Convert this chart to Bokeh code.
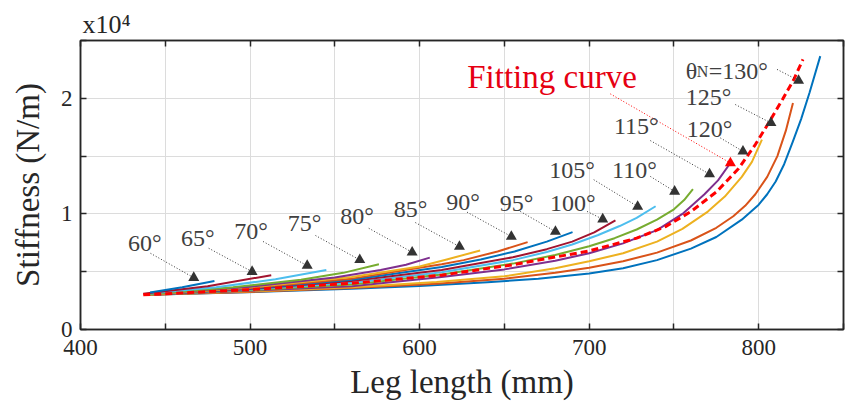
from bokeh.plotting import figure
from bokeh.models import FixedTicker, LinearAxis, Range1d, ColumnDataSource
from bokeh.embed import file_html
from bokeh.resources import INLINE
from bokeh.core.properties import value

# ---------------- data (stiffness in x10^4 N/m, leg length in mm) ----------------
angles = [60, 65, 70, 75, 80, 85, 90, 95, 100, 105, 110, 115, 120, 125, 130]

len_60 = [441, 460, 479]
stf_60 = [0.32, 0.365, 0.42]
len_65 = [437, 475, 512.5]
stf_65 = [0.31, 0.375, 0.47]
len_70 = [439, 480, 515, 545]
stf_70 = [0.31, 0.365, 0.435, 0.515]
len_75 = [440, 490, 530, 555, 576]
stf_75 = [0.305, 0.365, 0.43, 0.49, 0.564]
len_80 = [440, 500, 550, 577, 592, 606]
stf_80 = [0.305, 0.37, 0.45, 0.515, 0.56, 0.622]
len_85 = [440, 500, 560, 600, 616, 635.7]
stf_85 = [0.30, 0.365, 0.455, 0.545, 0.605, 0.684]
len_90 = [440, 500, 560, 613, 626, 646, 663.7]
stf_90 = [0.30, 0.36, 0.44, 0.565, 0.60, 0.675, 0.756]
len_95 = [440, 500, 560, 613, 636, 656, 675, 690.2]
stf_95 = [0.30, 0.355, 0.43, 0.54, 0.605, 0.675, 0.76, 0.842]
len_100 = [440, 500, 560, 613, 655, 675, 690, 703, 715.5]
stf_100 = [0.30, 0.35, 0.42, 0.515, 0.625, 0.695, 0.76, 0.84, 0.943]
len_105 = [440, 500, 560, 613, 655, 675, 690, 705, 718, 728, 739.2]
stf_105 = [0.30, 0.345, 0.405, 0.495, 0.60, 0.67, 0.735, 0.815, 0.895, 0.965, 1.066]
len_110 = [440, 500, 560, 613, 655, 680, 700, 715, 728, 740, 750, 756, 761.2]
stf_110 = [0.30, 0.34, 0.39, 0.475, 0.57, 0.645, 0.72, 0.79, 0.865, 0.95, 1.04, 1.12, 1.214]
len_115 = [440, 500, 560, 613, 650, 680, 700, 720, 740, 755, 768, 776, 783.3]
stf_115 = [0.30, 0.335, 0.375, 0.455, 0.52, 0.595, 0.66, 0.745, 0.86, 1.0, 1.17, 1.29, 1.44]
len_120 = [440, 500, 560, 610, 650, 680, 700, 720, 740, 755, 770, 780, 790, 796, 801.9]
stf_120 = [0.30, 0.33, 0.365, 0.41, 0.46, 0.53, 0.59, 0.66, 0.76, 0.87, 1.02, 1.15, 1.32, 1.45, 1.643]
len_125 = [440, 500, 560, 610, 650, 680, 700, 720, 740, 760, 775, 785, 792, 798, 805, 811, 816, 820.2]
stf_125 = [0.30, 0.325, 0.358, 0.395, 0.44, 0.49, 0.535, 0.59, 0.665, 0.77, 0.88, 0.98, 1.07,
           1.17, 1.32, 1.50, 1.72, 1.96]
len_130 = [440, 480, 520, 560, 600, 640, 670, 700, 720, 740, 760, 775, 790, 800, 805, 810,
           815, 820, 825, 830, 836.3]
stf_130 = [0.30, 0.315, 0.332, 0.352, 0.376, 0.408, 0.44, 0.485, 0.53, 0.60, 0.70, 0.80, 0.95,
           1.08, 1.17, 1.28, 1.43, 1.62, 1.82, 2.05, 2.365]

len_fit = [437, 500, 560, 613, 655, 700, 728, 745, 760, 775, 788, 798, 806, 814, 820.6, 826.1]
stf_fit = [0.30, 0.345, 0.40, 0.47, 0.56, 0.68, 0.79, 0.89, 1.02, 1.19, 1.39, 1.60, 1.79, 1.99,
           2.16, 2.336]

x_major = [400, 500, 600, 700, 800]
x_minor = [450, 550, 650, 750, 850]
y_major = [0, 1, 2]
y_minor = [0.5, 1.5, 2.5]

# angle labels (text anchor) and arrows (start -> head)
lab_text = ["60°", "65°", "70°", "75°", "80°", "85°", "90°", "95°", "100°",
            "105°", "110°", "115°", "120°", "125°"]
lab_x = [437.9, 469.2, 500.6, 532.1, 563.1, 594.6, 625.6, 657.1, 690.3,
         689.9, 726.7, 727.8, 771.0, 770.4]
lab_y = [0.746, 0.789, 0.853, 0.919, 0.983, 1.044, 1.101, 1.093, 1.093,
         1.382, 1.382, 1.758, 1.738, 2.010]
arr_x0 = [441.3, 475.6, 507.7, 538.6, 570.0, 597.5, 628.0, 659.4, 698.8,
          702.7, 736.1, 736.1, 777.4, 786.2, 810.8]
arr_y0 = [0.659, 0.703, 0.761, 0.813, 0.876, 0.925, 1.015, 1.021, 1.021,
          1.296, 1.324, 1.634, 1.657, 1.946, 2.250]
arr_x1 = [466.8, 501.2, 533.7, 564.7, 595.6, 623.5, 654.1, 680.1, 708.0,
          728.6, 750.4, 771.0, 790.7, 807.2, 823.5]
arr_y1 = [0.448, 0.500, 0.552, 0.602, 0.668, 0.717, 0.804, 0.847, 0.954,
          1.064, 1.194, 1.344, 1.541, 1.787, 2.154]
fit_arr = [712.5, 2.038, 783.3, 1.44]
fit_lab = [678.1, 2.183]
theta_lab = [757.0, 2.235]

FONT = "Liberation Serif"
AX = "#262626"
matlab = ["#0072BD", "#D95319", "#EDB120", "#7E2F8E", "#77AC30", "#4DBEEE", "#A2142F"]

p = figure(width=846, height=406, x_range=Range1d(400, 850), y_range=Range1d(0, 2.5),
           output_backend="svg", toolbar_location=None,
           min_border_left=80, min_border_right=3, min_border_top=40, min_border_bottom=77)
p.background_fill_color = "white"
p.border_fill_color = "white"
p.outline_line_color = AX
p.outline_line_width = 1.5

# "x10^4" exponent note at the top-left corner
p.title.text = "x10\u2074"
p.title.align = "left"
p.title.offset = 2
p.title.standoff = 3
p.title.text_font = FONT
p.title.text_font_size = "26px"
p.title.text_font_style = "normal"
p.title.text_color = AX

xt = FixedTicker(ticks=x_major, minor_ticks=x_minor)
yt = FixedTicker(ticks=y_major, minor_ticks=y_minor)
p.xaxis.ticker = xt
p.yaxis.ticker = yt
for g in (p.xgrid, p.ygrid):
    g.grid_line_color = "#dcdcdc"
    g.grid_line_width = 1
    g.minor_grid_line_color = "#dcdcdc"
    g.minor_grid_line_width = 1


def style(ax):
    ax.axis_line_color = AX
    ax.axis_line_width = 1.5
    ax.major_tick_in = 6
    ax.major_tick_out = 0
    ax.minor_tick_in = 6
    ax.minor_tick_out = 0
    ax.major_tick_line_color = AX
    ax.minor_tick_line_color = AX
    ax.major_tick_line_width = 1.5
    ax.minor_tick_line_width = 1.5
    ax.major_label_text_font = FONT
    ax.major_label_text_font_size = "23px"
    ax.major_label_text_color = AX
    ax.axis_label_text_font = FONT
    ax.axis_label_text_font_size = "33px"
    ax.axis_label_text_font_style = "normal"
    ax.axis_label_text_color = AX


style(p.xaxis[0])
style(p.yaxis[0])
p.xaxis.axis_label = "Leg length (mm)"
p.yaxis.axis_label = "Stiffness (N/m)"
p.xaxis.major_label_standoff = 10
p.xaxis.axis_label_standoff = 6
p.yaxis.major_label_standoff = 8
p.yaxis.axis_label_standoff = 12

top = LinearAxis(ticker=FixedTicker(ticks=x_major, minor_ticks=x_minor))
right = LinearAxis(ticker=FixedTicker(ticks=y_major, minor_ticks=y_minor))
for ax in (top, right):
    style(ax)
    ax.major_label_text_font_size = "1px"
    ax.major_label_text_color = None
    ax.major_label_standoff = 0
p.add_layout(top, "above")
p.add_layout(right, "right")

curves = [(len_130, stf_130), (len_125, stf_125), (len_120, stf_120), (len_115, stf_115),
          (len_110, stf_110), (len_105, stf_105), (len_100, stf_100), (len_95, stf_95),
          (len_90, stf_90), (len_85, stf_85), (len_80, stf_80), (len_75, stf_75),
          (len_70, stf_70), (len_65, stf_65), (len_60, stf_60)]
for i, (xs, ys) in enumerate(curves):
    p.line(xs, ys, line_color=matlab[i % 7], line_width=2, line_join="round")

p.line(len_fit, stf_fit, line_color="#FF0000", line_width=3, line_dash="7 4")

# arrows
p.segment(x0=arr_x0, y0=arr_y0, x1=arr_x1, y1=arr_y1, line_color="#333333",
          line_width=1, line_dash="1 2")
p.scatter(arr_x1, arr_y1, marker="triangle", size=11, fill_color="#333333", line_color=None)
p.segment(x0=[fit_arr[0]], y0=[fit_arr[1]], x1=[fit_arr[2]], y1=[fit_arr[3]],
          line_color="#FF0000", line_width=1, line_dash="1 2")
p.scatter([fit_arr[2]], [fit_arr[3]], marker="triangle", size=11, fill_color="#FF0000",
          line_color=None)

src = ColumnDataSource(dict(x=lab_x, y=lab_y, t=lab_text))
p.text(x="x", y="y", text="t", source=src, text_font=value(FONT), text_font_size=value("24px"),
       text_color="#404040", text_align="center", text_baseline="middle")

p.text(x=[fit_lab[0]], y=[fit_lab[1]], text=["Fitting curve"], text_font=value(FONT),
       text_font_size=value("33px"), text_color="#E60012", text_align="center",
       text_baseline="middle")

p.text(x=[theta_lab[0]], y=[theta_lab[1]], text=["θ"], text_font=value(FONT),
       text_font_size=value("24px"), text_color="#404040", text_align="left",
       text_baseline="alphabetic")
p.text(x=[theta_lab[0]], y=[theta_lab[1]], text=["N"], x_offset=11, text_font=value(FONT),
       text_font_size=value("16px"), text_color="#404040", text_align="left",
       text_baseline="alphabetic")
p.text(x=[theta_lab[0]], y=[theta_lab[1]], text=["=130°"], x_offset=23, text_font=value(FONT),
       text_font_size=value("24px"), text_color="#404040", text_align="left",
       text_baseline="alphabetic")

open("out.html", "w").write(file_html(p, INLINE))
